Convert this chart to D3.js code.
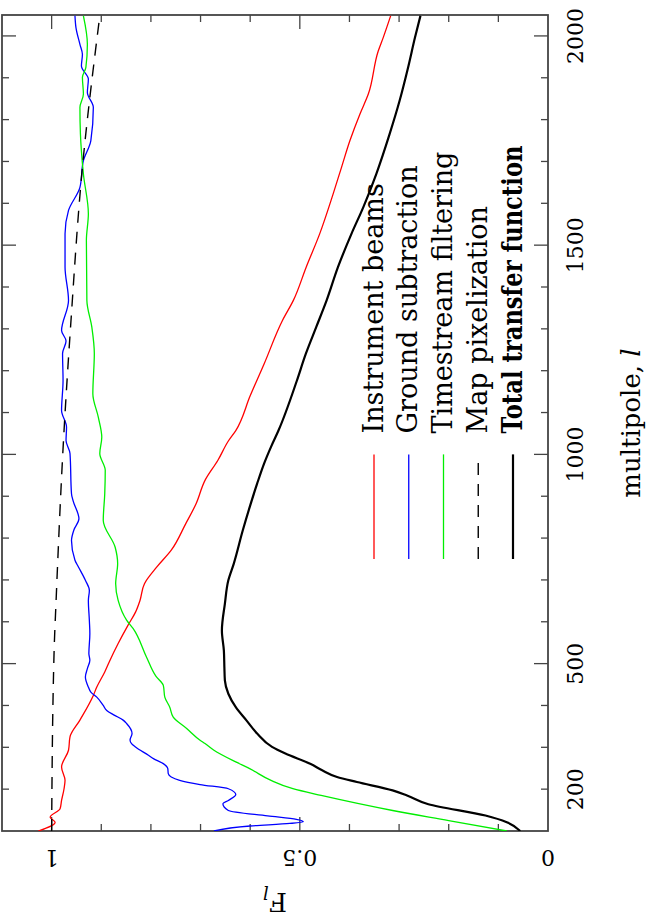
<!DOCTYPE html>
<html>
<head>
<meta charset="utf-8">
<script src="https://cdn.jsdelivr.net/npm/d3@7"></script>
<style>
  body { margin: 0; background: #fff; }
  svg { display: block; }
  text { font-family: "DejaVu Serif", serif; fill: #000; }
</style>
</head>
<body>
<svg id="chart" width="650" height="916"></svg>
<script>
// series values as [multipole l, F_l]
const instrumentBeams = [
  [100, 1.027], [121, 0.993], [133, 1.003], [153, 0.983], [173, 0.980], [201, 0.975],
  [221, 0.973], [253, 0.980], [293, 0.966], [325, 0.963], [365, 0.943], [424, 0.916],
  [444, 0.909], [480, 0.893], [504, 0.884], [548, 0.866], [592, 0.846], [623, 0.831],
  [651, 0.822], [691, 0.813], [731, 0.788], [771, 0.759], [834, 0.730], [882, 0.709],
  [938, 0.691], [986, 0.665], [1032, 0.644], [1057, 0.629], [1140, 0.600], [1216, 0.572],
  [1320, 0.535], [1368, 0.513], [1448, 0.487], [1527, 0.460], [1622, 0.433], [1686, 0.416],
  [1750, 0.399], [1813, 0.379], [1861, 0.362], [1964, 0.342], [1996, 0.332], [2048, 0.317]
];
const groundSubtraction = [
  [100, 0.673], [112, 0.600], [118, 0.520], [122, 0.493], [128, 0.507], [136, 0.565],
  [149, 0.644], [165, 0.655], [173, 0.644], [187, 0.629], [201, 0.644], [211, 0.701],
  [221, 0.742], [229, 0.759], [237, 0.765], [249, 0.766], [261, 0.775], [273, 0.795],
  [281, 0.805], [301, 0.831], [309, 0.839], [317, 0.842], [333, 0.838], [357, 0.849],
  [365, 0.856], [377, 0.874], [388, 0.889], [400, 0.896], [420, 0.909], [432, 0.921],
  [444, 0.926], [468, 0.932], [488, 0.928], [508, 0.923], [524, 0.925], [572, 0.923],
  [603, 0.924], [651, 0.926], [675, 0.924], [699, 0.932], [731, 0.946], [747, 0.953],
  [794, 0.960], [820, 0.955], [846, 0.945], [890, 0.957], [906, 0.960], [1002, 0.963],
  [1033, 0.971], [1065, 0.970], [1105, 0.980], [1177, 0.977], [1241, 0.978], [1271, 0.971],
  [1296, 0.980], [1368, 0.966], [1448, 0.973], [1527, 0.973], [1583, 0.966], [1638, 0.943],
  [1702, 0.936], [1750, 0.921], [1829, 0.916], [1865, 0.928], [1897, 0.926], [1928, 0.940],
  [1956, 0.938], [1980, 0.943], [2020, 0.951], [2048, 0.953]
];
const timestreamFiltering = [
  [100, 0.083], [125, 0.200], [149, 0.313], [185, 0.457], [201, 0.514], [221, 0.558],
  [249, 0.601], [265, 0.629], [293, 0.673], [309, 0.691], [317, 0.701], [345, 0.728],
  [372, 0.755], [396, 0.762], [420, 0.772], [448, 0.775], [470, 0.790], [516, 0.809],
  [584, 0.836], [604, 0.849], [651, 0.866], [691, 0.871], [739, 0.867], [778, 0.872],
  [842, 0.896], [906, 0.893], [962, 0.892], [1002, 0.903], [1041, 0.899], [1089, 0.906],
  [1145, 0.917], [1241, 0.914], [1304, 0.919], [1368, 0.929], [1511, 0.930], [1575, 0.926],
  [1670, 0.936], [1766, 0.942], [1829, 0.943], [1861, 0.936], [1901, 0.938], [1925, 0.931],
  [1980, 0.928], [2048, 0.936]
];
const mapPixelization = [
  [100, 1.000], [531, 0.995], [651, 0.991], [1057, 0.975], [1320, 0.961],
  [1686, 0.938], [2048, 0.903]
];
const totalTransfer = [
  [100, 0.056], [121, 0.083], [137, 0.126], [164, 0.241], [185, 0.284], [197, 0.313],
  [217, 0.385], [229, 0.425], [245, 0.455], [260, 0.478], [285, 0.529], [301, 0.556],
  [333, 0.586], [365, 0.608], [396, 0.629], [428, 0.644], [460, 0.651], [492, 0.652],
  [531, 0.653], [579, 0.657], [643, 0.651], [699, 0.644], [739, 0.633], [818, 0.615],
  [874, 0.601], [930, 0.586], [978, 0.572], [1018, 0.558], [1057, 0.543], [1176, 0.506],
  [1240, 0.488], [1304, 0.467], [1368, 0.446], [1448, 0.423], [1527, 0.396], [1591, 0.372],
  [1670, 0.346], [1766, 0.319], [1845, 0.299], [1924, 0.282], [1996, 0.268], [2048, 0.257]
];

const ellLabels = [200, 500, 1000, 1500, 2000];
const fLabels = [0, 0.5, 1];
const legendLabels = ["Instrument beams", "Ground subtraction", "Timestream filtering",
  "Map pixelization", "Total transfer function"];

const series = [
  { name: legendLabels[0], values: instrumentBeams, color: "#ff0000", width: 1.3 },
  { name: legendLabels[1], values: groundSubtraction, color: "#0000ff", width: 1.3 },
  { name: legendLabels[2], values: timestreamFiltering, color: "#00ee00", width: 1.3 },
  { name: legendLabels[3], values: mapPixelization, color: "#000", width: 1.4, dash: "12,9" },
  { name: legendLabels[4], values: totalTransfer, color: "#000", width: 2.2, bold: true }
];

// the whole figure is drawn in its own frame and then turned a quarter turn
const W = 916, H = 650;
const plot = { left: 85, right: 901, top: 2, bottom: 548 };

const svg = d3.select("#chart");
const g = svg.append("g").attr("transform", `translate(0,${W}) rotate(-90)`);

const x = d3.scaleLinear().domain([100, 2050]).range([plot.left, plot.right]);
const y = d3.scaleLinear().domain([0, 1.1]).range([plot.bottom, plot.top]);

g.append("clipPath").attr("id", "clip")
  .append("rect")
  .attr("x", plot.left).attr("y", plot.top)
  .attr("width", plot.right - plot.left).attr("height", plot.bottom - plot.top);

// ticks on all four sides
const ellTicks = x.ticks(20).filter(d => d > 100);
const fTicks = y.ticks(11).filter(d => d > 0 && d < 1.1);
const tickLen = major => major ? 14 : 7;
const frameColor = "#444";

const ticks = g.append("g").attr("stroke", frameColor).attr("stroke-width", 1.3);
ellTicks.forEach(v => {
  const len = tickLen(v % 500 === 0);
  ticks.append("line").attr("x1", x(v)).attr("x2", x(v))
    .attr("y1", plot.bottom).attr("y2", plot.bottom - len);
  ticks.append("line").attr("x1", x(v)).attr("x2", x(v))
    .attr("y1", plot.top).attr("y2", plot.top + len);
});
fTicks.forEach(v => {
  const len = tickLen(Math.round(v * 10) % 5 === 0);
  ticks.append("line").attr("y1", y(v)).attr("y2", y(v))
    .attr("x1", plot.left).attr("x2", plot.left + len);
  ticks.append("line").attr("y1", y(v)).attr("y2", y(v))
    .attr("x1", plot.right).attr("x2", plot.right - len);
});

g.append("rect")
  .attr("x", plot.left).attr("y", plot.top)
  .attr("width", plot.right - plot.left).attr("height", plot.bottom - plot.top)
  .attr("fill", "none").attr("stroke", frameColor).attr("stroke-width", 1.8);

// tick labels
g.selectAll(".ell-label")
  .data(ellLabels)
  .join("text")
  .attr("class", "ell-label")
  .attr("x", d => x(d))
  .attr("y", plot.bottom + 35)
  .attr("text-anchor", "middle")
  .style("font-size", "22px")
  .text(d => d);

g.selectAll(".f-label")
  .data(fLabels)
  .join("text")
  .attr("class", "f-label")
  .attr("transform", d => `translate(${plot.left - 19},${y(d)}) rotate(-90)`)
  .attr("text-anchor", "middle")
  .style("font-size", "22px")
  .text(d => d);

// axis titles
const xTitle = g.append("text")
  .attr("x", (plot.left + plot.right) / 2)
  .attr("y", plot.bottom + 92)
  .attr("text-anchor", "middle")
  .style("font-size", "26px");
xTitle.append("tspan").text("multipole, ");
xTitle.append("tspan").style("font-style", "italic").text("l");

const yTitle = g.append("text")
  .attr("transform", `translate(${plot.left - 62},${y(0.55)}) rotate(-90)`)
  .attr("text-anchor", "middle")
  .style("font-size", "26px");
yTitle.append("tspan").text("F");
yTitle.append("tspan").attr("dy", 7).style("font-size", "18px").style("font-style", "italic").text("l");

// curves
const line = d3.line()
  .x(d => x(d[0]))
  .y(d => y(d[1]))
  .curve(d3.curveMonotoneX);

g.append("g").attr("clip-path", "url(#clip)")
  .selectAll("path")
  .data(series)
  .join("path")
  .attr("d", d => line(d.values))
  .attr("fill", "none")
  .attr("stroke", d => d.color)
  .attr("stroke-width", d => d.width)
  .attr("stroke-dasharray", d => d.dash || null)
  .attr("stroke-linejoin", "round");

// legend
const legendY = d3.scaleLinear().domain([0, 4]).range([374, 513]);
const legend = g.append("g")
  .selectAll("g")
  .data(series)
  .join("g")
  .attr("transform", (d, i) => `translate(0,${legendY(i)})`);

legend.append("line")
  .attr("x1", x(750)).attr("x2", x(1000))
  .attr("stroke", d => d.color)
  .attr("stroke-width", d => d.width)
  .attr("stroke-dasharray", d => d.dash || null);

legend.append("text")
  .attr("x", x(1050))
  .attr("y", 8.5)
  .style("font-size", "27px")
  .style("font-weight", d => d.bold ? "bold" : "normal")
  .attr("textLength", d => d.bold ? x(1738) - x(1050) : null)
  .attr("lengthAdjust", "spacingAndGlyphs")
  .text(d => d.name);
</script>
</body>
</html>
